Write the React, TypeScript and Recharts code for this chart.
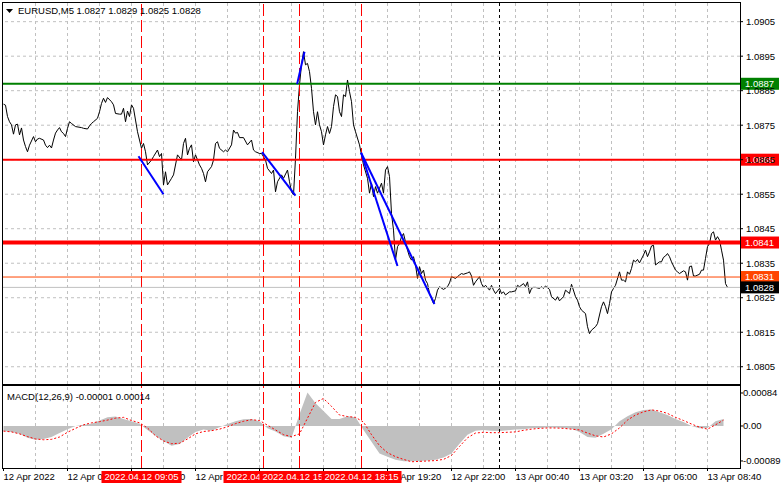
import React from 'react';
import { ComposedChart, Line, Area, XAxis, YAxis, ReferenceLine } from 'recharts';

// EURUSD M5 closes, sampled by bar number (bar 0 = 12 Apr 03:20)
const priceBars = [
  0, 1, 2, 3, 4, 5, 6, 7, 8, 9, 10, 11, 12, 13, 15, 16, 17, 18, 20, 21, 22, 23, 24, 25, 26, 27, 28, 29, 30, 31,
  32, 33, 34, 36, 39, 40, 42, 43, 44, 45, 47, 48, 49, 50, 51, 52, 54, 55, 56, 58, 59, 60, 61, 62, 63, 64, 65, 66, 67, 68,
  69, 70, 71, 72, 74, 75, 77, 78, 79, 80, 81, 82, 84, 85, 87, 89, 90, 91, 92, 93, 94, 95, 96, 98, 99, 100, 101, 102, 104, 105,
  106, 107, 108, 110, 111, 112, 114, 115, 116, 117, 118, 120, 122, 124, 125, 126, 128, 129, 131, 132, 134, 135, 136, 137, 139, 140, 142, 143, 144, 145,
  146, 147, 148, 149, 150, 151, 152, 153, 154, 155, 156, 157, 158, 159, 160, 161, 162, 163, 164, 165, 166, 167, 168, 169, 170, 171, 172, 173, 174, 175,
  176, 178, 179, 180, 182, 183, 184, 185, 186, 187, 188, 189, 190, 191, 192, 193, 194, 195, 196, 197, 198, 199, 200, 201, 202, 203, 204, 205, 206, 207,
  208, 209, 210, 211, 212, 213, 214, 215, 216, 217, 218, 220, 222, 223, 224, 226, 227, 228, 229, 230, 232, 233, 234, 235, 236, 238, 239, 240, 241, 243,
  244, 245, 246, 248, 249, 250, 251, 253, 254, 256, 257, 258, 260, 261, 262, 263, 264, 265, 266, 268, 269, 270, 271, 273, 274, 276, 277, 278, 280, 281,
  283, 284, 286, 287, 288, 289, 291, 292, 293, 294, 296, 297, 298, 299, 300, 301, 302, 303, 304, 305, 306, 308, 309, 310, 311, 312, 313, 314, 315, 316,
  317, 318, 320, 321, 322, 323, 324, 325, 326, 328, 329, 330, 331, 332, 333, 334, 336, 337, 338, 340, 341, 342, 343, 344, 345, 346, 348, 349, 350, 351,
  352, 353, 354, 355, 356, 357, 358, 359, 360, 361, 362,
];
const closes = [
  1.08811, 1.08808, 1.08775, 1.0876, 1.08751, 1.08724, 1.08751, 1.08753, 1.08722, 1.08742, 1.08707, 1.08688, 1.08673, 1.08692, 1.08717, 1.08702, 1.0871, 1.08712, 1.08707, 1.08692, 1.08685, 1.08692, 1.08684, 1.08707, 1.08727, 1.08736, 1.08743, 1.08731, 1.08726, 1.08717,
  1.08741, 1.0876, 1.08755, 1.08746, 1.08743, 1.08741, 1.08739, 1.08748, 1.08755, 1.0876, 1.0877, 1.08789, 1.08813, 1.08828, 1.08816, 1.0883, 1.08818, 1.08809, 1.08784, 1.08782, 1.08782, 1.08799, 1.0876, 1.08791, 1.08775, 1.08809, 1.08799, 1.08765, 1.08731, 1.08707,
  1.08683, 1.08697, 1.08673, 1.08635, 1.08649, 1.08659, 1.08678, 1.08659, 1.08668, 1.08577, 1.08615, 1.08577, 1.08596, 1.08606, 1.08664, 1.08649, 1.08697, 1.08712, 1.08664, 1.08683, 1.08693, 1.08644, 1.08664, 1.08635, 1.08625, 1.0861, 1.08586, 1.08615, 1.0863, 1.08649,
  1.08697, 1.08702, 1.08683, 1.08673, 1.08678, 1.08673, 1.08693, 1.08736, 1.08727, 1.08729, 1.08714, 1.08714, 1.08693, 1.08707, 1.08678, 1.08673, 1.08668, 1.08668, 1.08649, 1.08625, 1.0861, 1.0862, 1.08557, 1.08586, 1.08606, 1.08596, 1.0862, 1.08586, 1.08557, 1.08548,
  1.08654, 1.08789, 1.08867, 1.08925, 1.08963, 1.08925, 1.08929, 1.08905, 1.08857, 1.08789, 1.08751, 1.08789, 1.08751, 1.08731, 1.08693, 1.08722, 1.08746, 1.08726, 1.08746, 1.08804, 1.08838, 1.08833, 1.08789, 1.08775, 1.08838, 1.08833, 1.08881, 1.08847, 1.08818, 1.08751,
  1.08731, 1.08693, 1.08664, 1.08635, 1.08596, 1.08553, 1.08582, 1.08543, 1.08572, 1.08553, 1.08567, 1.08582, 1.08553, 1.0862, 1.0863, 1.08601, 1.08494, 1.08446, 1.08359, 1.08398, 1.08407, 1.08427, 1.08436, 1.08412, 1.08388, 1.08369, 1.08359, 1.08369, 1.08345, 1.08306,
  1.0834, 1.0832, 1.0833, 1.08301, 1.08291, 1.08262, 1.08248, 1.08233, 1.08248, 1.08272, 1.08282, 1.08274, 1.08282, 1.08293, 1.08311, 1.08306, 1.08311, 1.08316, 1.0832, 1.08318, 1.08322, 1.08325, 1.08313, 1.08286, 1.08296, 1.08311, 1.08291, 1.0828, 1.08286, 1.08272,
  1.08286, 1.08272, 1.08262, 1.08277, 1.08262, 1.08267, 1.08258, 1.08267, 1.08267, 1.0827, 1.08286, 1.08282, 1.08291, 1.08282, 1.08296, 1.08262, 1.08277, 1.0828, 1.0828, 1.08277, 1.08282, 1.08277, 1.08284, 1.08274, 1.08253, 1.08243, 1.08253, 1.08241, 1.08253, 1.08272,
  1.08262, 1.08289, 1.08253, 1.08243, 1.08224, 1.08214, 1.08204, 1.08166, 1.08146, 1.08156, 1.08166, 1.08175, 1.082, 1.08224, 1.08238, 1.08224, 1.08204, 1.08233, 1.08267, 1.08277, 1.08286, 1.08325, 1.08301, 1.08301, 1.08296, 1.08325, 1.08318, 1.08335, 1.08359, 1.08354,
  1.08361, 1.08351, 1.08374, 1.08388, 1.08369, 1.08383, 1.084, 1.08402, 1.08345, 1.08354, 1.08354, 1.08367, 1.08371, 1.08378, 1.08369, 1.08354, 1.0833, 1.08325, 1.0832, 1.08328, 1.08325, 1.08301, 1.0834, 1.08342, 1.08313, 1.08313, 1.08318, 1.0833, 1.0833, 1.08364,
  1.08398, 1.08407, 1.08436, 1.08441, 1.08417, 1.08427, 1.08417, 1.08388, 1.08359, 1.08291, 1.0828,
];

// MACD(12,26,9): main (histogram) and signal, read every 4 bars
const macdBars = [
  0, 4, 8, 12, 16, 20, 24, 28, 32, 36, 40, 44, 48, 52, 56, 60, 64, 68, 72, 76, 80, 84, 88, 92, 96, 100, 104, 108, 112, 116,
  120, 124, 128, 132, 136, 140, 144, 148, 152, 156, 160, 164, 168, 172, 176, 180, 184, 188, 192, 196, 200, 204, 208, 212, 216, 220, 224, 228, 232, 236,
  240, 244, 248, 252, 256, 260, 264, 268, 272, 276, 280, 284, 288, 292, 296, 300, 304, 308, 312, 316, 320, 324, 328, 332, 336, 340, 344, 348, 352, 356,
  360,
];
const macdMain = [
  -0.00013, -0.00015, -0.0002, -0.0003, -0.00035, -0.00033, -0.00028, -0.00018, -0.00008, 0, 0.00003, 0.00006, 0.00014, 0.00022, 0.00024, 0.00018, 0.00012, 0.00006, -0.0001, -0.00025, -0.00038, -0.0005, -0.00046, -0.0003, -0.00015, -0.00009, -0.00012, -0.00003, 0.00005, 0.00012,
  0.00017, 0.00018, 0.00012, -0.00006, -0.00014, -0.00026, -0.0003, 0.0003, 0.00085, 0.00058, 0.00038, 0.00018, 0.00018, 0.00025, 0.00022, -0.0001, -0.0004, -0.0007, -0.00078, -0.00086, -0.0009, -0.0009, -0.00089, -0.00088, -0.00086, -0.0008, -0.0007, -0.00045, -0.00022, -0.00012,
  -0.0001, -0.00012, -0.00013, -0.00011, -0.00009, -0.00008, -0.00006, -0.00005, -0.00004, -0.00004, -0.00005, -0.00007, -0.00015, -0.00028, -0.0003, -0.0002, -0.00008, 0.00012, 0.00025, 0.00035, 0.00041, 0.00042, 0.00035, 0.00028, 0.00018, 0.0001, 0, -0.00006, -0.00005, 0.00012,
  0.00018,
];
const macdSignal = [
  -0.00013, -0.00015, -0.0002, -0.00027, -0.00033, -0.00035, -0.00034, -0.00028, -0.00016, -0.00006, 0.00003, 0.00008, 0.00011, 0.00015, 0.0002, 0.00022, 0.00014, 0.00008, -0.00005, -0.00025, -0.00038, -0.00045, -0.00044, -0.00033, -0.0002, -0.00014, -0.00012, -0.00008, -0.00002, 0.00006,
  0.00012, 0.00016, 0.00014, 0.00002, -0.0001, -0.00022, -0.00027, -0.0002, 0.0002, 0.0006, 0.0007, 0.0005, 0.00028, 0.00024, 0.00022, 0.0001, -0.00022, -0.0005, -0.00068, -0.00078, -0.00085, -0.00091, -0.0009, -0.00089, -0.00088, -0.00085, -0.00075, -0.00052, -0.0003, -0.00018,
  -0.00016, -0.00017, -0.00017, -0.00016, -0.00015, -0.00011, -0.00008, -0.00006, -0.00005, -0.00005, -0.00006, -0.00008, -0.0001, -0.00018, -0.00025, -0.00028, -0.0002, -0.00005, 0.00015, 0.00028, 0.00036, 0.00041, 0.00038, 0.00032, 0.00022, 0.00014, 0.00005, -0.00003, -0.00008, 0.00003,
  0.00015,
];

const priceTicks = [1.0805, 1.0815, 1.0825, 1.0835, 1.0845, 1.0855, 1.0865, 1.0875, 1.0885, 1.0895, 1.0905];
const macdTicks = [0.00084, 0, -0.00089];

const timeTickBars = [0, 32, 64, 96, 128, 160, 192, 224, 256, 288, 320, 352];
const timeTickLabels = [
  '12 Apr 2022', '12 Apr 06:00', '12 Apr 08:40', '12 Apr 11:20', '12 Apr 14:00', '12 Apr 16:40',
  '12 Apr 19:20', '12 Apr 22:00', '13 Apr 00:40', '13 Apr 03:20', '13 Apr 06:00', '13 Apr 08:40',
];
const gridBars = [16, 32, 48, 64, 80, 96, 112, 128, 144, 160, 176, 192, 208, 224, 240, 256, 272, 288, 304, 320, 336, 352];

// horizontal levels: resistance, sell level, buy level, target, bid
const levelPrices = [1.0887, 1.0865, 1.0841, 1.0831, 1.0828];
const eventBars = [69, 130, 148, 179];
const eventLabels = ['2022.04.12 09:05', '2022.04.12 14:10', '2022.04.12 15:40', '2022.04.12 18:15'];
const daySeparatorBar = 248;

// trend lines as [bar, price] pairs
const trendLines = [
  [[67.5, 1.0866], [80, 1.0855]],
  [[129.3, 1.08672], [146, 1.08546]],
  [[146.8, 1.08869], [150.5, 1.08963]],
  [[178.8, 1.0867], [197, 1.08342]],
  [[178.8, 1.0867], [215.5, 1.08232]],
];

const symbol = 'EURUSD,M5';
const ohlc = ['1.0827', '1.0829', '1.0825', '1.0828'];
const macdName = 'MACD(12,26,9)';
const macdNow = ['-0.00001', '0.00014'];

const priceData = priceBars.map((bar, k) => ({ bar, close: closes[k] }));
const macdData = macdBars.map((bar, k) => ({ bar, main: macdMain[k], signal: macdSignal[k] }));

// quarter-bar shift puts whole bars on pixel centres
const X_DOMAIN: [number, number] = [-0.25, 368.25];
const MACD_DOMAIN: [number, number] = [-0.001069, 0.001018];
const FONT = '"Liberation Sans", Arial, sans-serif';
const FS = 9.5;

const levelLook = [
  { stroke: '#008000', width: 2, tag: '#008000' },
  { stroke: '#ff0000', width: 2, tag: '#ff0000' },
  { stroke: '#ff0000', width: 4, tag: '#ff0000' },
  { stroke: '#ff4500', width: 1, tag: '#ff4500' },
  { stroke: '#c0c0c0', width: 1, tag: '#000000' },
];

const PriceTag = ({ viewBox, text, fill }: any) => {
  const { x, y, width } = viewBox;
  const left = x + width + 1;
  return (
    <g>
      <rect x={left} y={y - 6} width={38} height={12} fill={fill} />
      <text x={left + 4} y={y} dy="0.35em" fill="#fff" fontSize={FS} fontFamily={FONT}>
        {text}
      </text>
    </g>
  );
};

const EventTag = ({ viewBox, text }: any) => {
  const { x, y, height } = viewBox;
  const top = y + height + 3;
  return (
    <g>
      <rect x={x - 40} y={top} width={80} height={12} fill="#ff0000" />
      <text x={x} y={top + 6} dy="0.35em" textAnchor="middle" fill="#fff" fontSize={FS} fontFamily={FONT}>
        {text}
      </text>
    </g>
  );
};

const TimeTick = (props: any) => {
  const { x, y, payload } = props;
  const k = timeTickBars.indexOf(payload.value);
  return (
    <text x={x} y={y} dy="0.71em" textAnchor="start" fill="#000" fontSize={FS} fontFamily={FONT}>
      {timeTickLabels[k]}
    </text>
  );
};

const gridLines = (prefix: string) =>
  gridBars.map((b) => <ReferenceLine key={prefix + b} x={b} stroke="#c0c0c0" strokeDasharray="3 3" />);

const eventLines = (withTags: boolean) =>
  eventBars.map((b, k) => (
    <ReferenceLine
      key={'ev' + b}
      x={b}
      stroke="#ff0000"
      strokeDasharray="12 4"
      label={withTags ? (p: any) => <EventTag viewBox={p.viewBox} text={eventLabels[k]} /> : undefined}
    />
  ));

const PriceChart = () => (
  <ComposedChart width={781} height={386} data={priceData} margin={{ top: 2, right: 0, bottom: 2, left: 3 }}>
    <XAxis dataKey="bar" type="number" domain={X_DOMAIN} hide allowDataOverflow />
    <YAxis
      orientation="right"
      width={41}
      type="number"
      domain={[1.08, 1.09107]}
      ticks={priceTicks}
      interval={0}
      tickFormatter={(v: number) => v.toFixed(4)}
      axisLine={false}
      tickLine={{ stroke: '#000' }}
      tickSize={3}
      tickMargin={3}
      tick={{ fontSize: FS, fill: '#000', fontFamily: FONT }}
      allowDataOverflow
    />
    {gridLines('g')}
    {priceTicks.map((p) => (
      <ReferenceLine key={'h' + p} y={p} stroke="#c0c0c0" strokeDasharray="3 3" />
    ))}
    <Line type="linear" dataKey="close" stroke="#000" strokeWidth={1} dot={false} isAnimationActive={false} />
    <ReferenceLine x={daySeparatorBar} stroke="#000" strokeDasharray="3 3" />
    {eventLines(false)}
    {levelPrices.map((p, k) => (
      <ReferenceLine
        key={'lv' + p}
        y={p}
        stroke={levelLook[k].stroke}
        strokeWidth={levelLook[k].width}
        label={(lp: any) => <PriceTag viewBox={lp.viewBox} text={p.toFixed(4)} fill={levelLook[k].tag} />}
      />
    ))}
    {trendLines.map((seg, k) => (
      <ReferenceLine
        key={'tl' + k}
        segment={[{ x: seg[0][0], y: seg[0][1] }, { x: seg[1][0], y: seg[1][1] }]}
        stroke="#0000ff"
        strokeWidth={2}
      />
    ))}
  </ComposedChart>
);

const MacdChart = () => (
  <ComposedChart width={781} height={105} data={macdData} margin={{ top: 2, right: 0, bottom: 0, left: 3 }}>
    <XAxis
      dataKey="bar"
      type="number"
      domain={X_DOMAIN}
      ticks={timeTickBars}
      interval={0}
      height={21}
      axisLine={false}
      tickLine={{ stroke: '#000' }}
      tickSize={3}
      tick={<TimeTick />}
      allowDataOverflow
    />
    <YAxis
      orientation="right"
      width={41}
      type="number"
      domain={MACD_DOMAIN}
      ticks={macdTicks}
      interval={0}
      tickFormatter={(v: number) => (v === 0 ? '0.00' : v.toFixed(5))}
      axisLine={false}
      tickLine={{ stroke: '#000' }}
      tickSize={3}
      tickMargin={0}
      tick={{ fontSize: FS, fill: '#000', fontFamily: FONT }}
      allowDataOverflow
    />
    {gridLines('mg')}
    <Area type="linear" dataKey="main" baseValue={0} fill="#c0c0c0" fillOpacity={1} stroke="none" isAnimationActive={false} />
    <Line type="linear" dataKey="signal" stroke="#ff0000" strokeDasharray="2 2" strokeWidth={1} dot={false} isAnimationActive={false} />
    <ReferenceLine x={daySeparatorBar} stroke="#000" strokeDasharray="3 3" />
  </ComposedChart>
);

// event markers drawn on top so their time tags cover the axis labels
const EventOverlay = () => (
  <ComposedChart width={781} height={105} data={macdData} margin={{ top: 2, right: 41, bottom: 21, left: 3 }}>
    <XAxis dataKey="bar" type="number" domain={X_DOMAIN} hide allowDataOverflow />
    <YAxis type="number" domain={MACD_DOMAIN} hide allowDataOverflow />
    {eventLines(true)}
  </ComposedChart>
);

export default function App() {
  return (
    <div style={{ position: 'absolute', left: 0, top: 0, width: 781, height: 489, background: '#fff', fontFamily: FONT, overflow: 'hidden' }}>
      <div style={{ position: 'absolute', left: 0, top: 0 }}>
        <PriceChart />
      </div>
      <div style={{ position: 'absolute', left: 0, top: 384 }}>
        <MacdChart />
      </div>
      <div style={{ position: 'absolute', left: 0, top: 384, pointerEvents: 'none' }}>
        <EventOverlay />
      </div>
      <svg width={781} height={489} style={{ position: 'absolute', left: 0, top: 0, pointerEvents: 'none' }}>
        <rect x={2.5} y={2.5} width={738} height={382} fill="none" stroke="#000" />
        <rect x={2.5} y={385.5} width={738} height={83} fill="none" stroke="#000" />
        <polygon points="6,9 13,9 9.5,13" fill="#000" />
        <text x={18} y={14} fontSize={FS} fill="#000" fontFamily={FONT}>
          {symbol + '  ' + ohlc.join(' ')}
        </text>
        <text x={7} y={400} fontSize={FS} fill="#000" fontFamily={FONT}>
          {macdName + ' ' + macdNow.join(' ')}
        </text>
      </svg>
    </div>
  );
}
